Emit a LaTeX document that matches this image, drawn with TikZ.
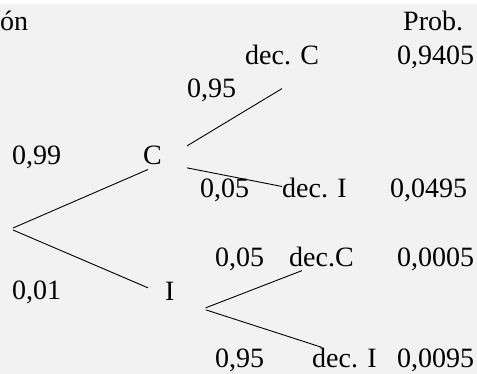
\documentclass[tikz,border=0pt]{standalone}
\usepackage{fontspec}
\setmainfont{Liberation Serif}
\definecolor{paper}{HTML}{F2F2F2}

\begin{document}
\begin{tikzpicture}[x=1pt,y=-1pt,
    font=\fontsize{28}{33}\selectfont,
    lbl/.style={inner sep=0pt,anchor=base west},
    branch/.style={line width=0.9pt}]

    \useasboundingbox (0,0) rectangle (477,374);
    \fill[paper] (0,4) rectangle (477,374);

    % headings
    \node[lbl] (head)  at (0,31)   {ón};
    \node[lbl] (prob)  at (403,31) {Prob.};

    % first stage
    \coordinate (root) at (13,228);
    \node[lbl] (C)     at (143,165) {C};
    \node[lbl] (I)     at (165,301) {I};
    \node[lbl] (q99)   at (12,165)  {0,99};
    \node[lbl] (q01)   at (12,300)  {0,01};

    % second stage
    \node[lbl] (decC)  at (245,65)  {dec. C};
    \node[lbl] (decI)  at (282,198) {dec. I};
    \node[lbl] (decCb) at (289,267) {dec.C};
    \node[lbl] (decIb) at (312,367) {dec. I};
    \node[lbl] (q95)   at (187,98)  {0,95};
    \node[lbl] (q05)   at (200,198) {0,05};
    \node[lbl] (q05b)  at (215,267) {0,05};
    \node[lbl] (q95b)  at (215,367) {0,95};

    % probabilities
    \node[lbl] (p1) at (397,65)  {0,9405};
    \node[lbl] (p2) at (390,198) {0,0495};
    \node[lbl] (p3) at (397,267) {0,0005};
    \node[lbl] (p4) at (397,367) {0,0095};

    \draw[branch] (root) -- ([shift={(5,4)}]C.south west);
    \draw[branch] ([shift={(0,2)}]root) -- ([shift={(-17,-4)}]I.west);
    \draw[branch] ([shift={(25,-10)}]C.east) -- ([shift={(37,23)}]decC.south west);
    \draw[branch] ([shift={(25,12)}]C.east) -- ([shift={(0,-2)}]decI.west);
    \draw[branch] ([shift={(31,16)}]I.east) -- ([shift={(13,3)}]decCb.south west);
    \draw[branch] ([shift={(31,18)}]I.east) -- ([shift={(10,0)}]decIb.north west);

\end{tikzpicture}
\end{document}
